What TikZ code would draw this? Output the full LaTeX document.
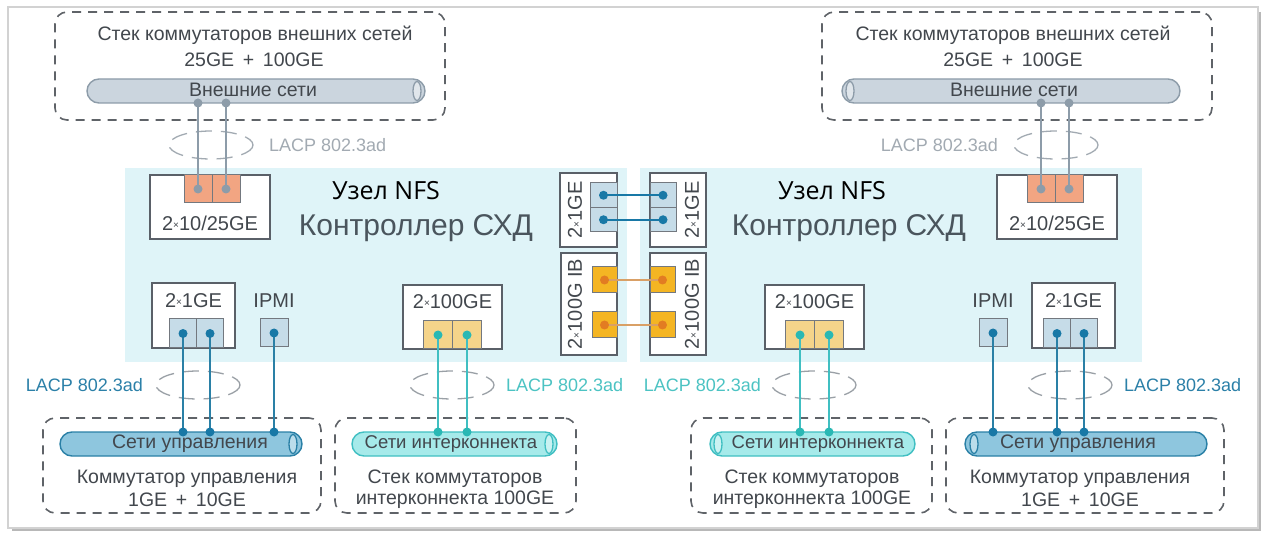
\documentclass[tikz,border=0pt]{standalone}
\usepackage{fontspec}
\setmainfont{Liberation Sans}
\newfontfamily\nfsfont{Open Sans}
\usetikzlibrary{calc}
\definecolor{cyanbg}{HTML}{DFF4F8}
\definecolor{boxline}{HTML}{5A6068}
\definecolor{dashgray}{HTML}{5F6368}
\definecolor{txtgray}{HTML}{42474D}
\definecolor{ctrlgray}{HTML}{4A555D}
\definecolor{extfill}{HTML}{CBD5DE}
\definecolor{extline}{HTML}{8D9CA9}
\definecolor{mgmtfill}{HTML}{8EC6DE}
\definecolor{mgmtline}{HTML}{2A80A6}
\definecolor{icfill}{HTML}{A6EAEA}
\definecolor{icline}{HTML}{40BFC2}
\definecolor{salmon}{HTML}{F2A582}
\definecolor{oneGfill}{HTML}{C6DCE8}
\definecolor{oneGdot}{HTML}{1878A6}
\definecolor{hundfill}{HTML}{F5D48A}
\definecolor{hunddot}{HTML}{2AB8B4}
\definecolor{ibfill}{HTML}{F4B523}
\definecolor{ibdot}{HTML}{E27C22}
\definecolor{iblink}{HTML}{D9A066}
\definecolor{lacpgray}{HTML}{A2AAB2}
\definecolor{lacpblue}{HTML}{2B80A8}
\definecolor{lacpteal}{HTML}{4CC3C3}
\definecolor{ringgray}{HTML}{9AA0A6}
\definecolor{framegray}{HTML}{D2D2D2}
\definecolor{shadowgray}{HTML}{B8B8B8}
\newcommand\tms{\raisebox{0.1em}{\fontsize{10}{10}\selectfont ×}}
\tikzset{
  every node/.style={inner sep=0pt, outer sep=0pt},
  hwbox/.style={draw=boxline, line width=1.3pt, fill=white},
  portbox/.style={draw=boxline!85, line width=1pt},
  dashbox/.style={draw=dashgray, line width=1.6pt, dash pattern=on 9pt off 7pt, rounded corners=12pt},
  pipebody/.style={line width=1.4pt, rounded corners=12pt, minimum height=24pt},
  ring/.style={draw=ringgray, line width=1.3pt, dash pattern=on 16pt off 9pt},
  txt/.style={text=txtgray, font=\fontsize{19.5}{22}\selectfont},
  ictxt/.style={text=txtgray, font=\fontsize{18.5}{22}\selectfont},
  lbl/.style={text=txtgray, font=\fontsize{20}{22}\selectfont},
  lacp/.style={font=\fontsize{18}{20}\selectfont},
  ctrl/.style={text=ctrlgray, font=\fontsize{30}{32}\selectfont},
  nfs/.style={text=black, font=\nfsfont\fontsize{25}{28}\selectfont},
  extwire/.style={draw=extline, line width=2pt},
  mgmtwire/.style={draw=mgmtline, line width=2pt},
  icwire/.style={draw=icline, line width=2pt},
  oneGwire/.style={draw=oneGdot, line width=1.6pt},
  ibwire/.style={draw=iblink, line width=1.2pt},
}
\begin{document}
\begin{tikzpicture}[x=1pt,y=-1pt]
\useasboundingbox (0,0) rectangle (1267,537);
% frame
\draw[shadowgray, line width=2.5pt] (1260,12) -- (1260,530) -- (12,530);
\draw[framegray, line width=1.5pt, fill=white] (8,7) rectangle (1258,528);
% cyan backgrounds
\node[fill=cyanbg, minimum width=502, minimum height=194] (bgL) at (376,265) {};
\node[fill=cyanbg, minimum width=502, minimum height=194] (bgR) at (891,265) {};

% ---------- dashed switch boxes ----------
\node[dashbox, minimum width=390, minimum height=108] (tlbox) at (250,66) {};
\node[dashbox, minimum width=390, minimum height=108] (trbox) at (1017,66) {};
\node[dashbox, minimum width=278, minimum height=95] (bl1box) at (182,465.5) {};
\node[dashbox, minimum width=241, minimum height=95] (bl2box) at (455.5,465.5) {};
\node[dashbox, minimum width=241, minimum height=95] (br1box) at (811.5,465.5) {};
\node[dashbox, minimum width=278, minimum height=95] (br2box) at (1085,465.5) {};

% texts in dashed boxes
\node[txt] (tlt1) at (255,35) {Стек коммутаторов внешних сетей};
\node[txt] (tlt2) at (254,60) {25GE \,+\, 100GE};
\node[txt] (trt1) at (1013,35) {Стек коммутаторов внешних сетей};
\node[txt] (trt2) at (1013,60) {25GE \,+\, 100GE};
\node[txt] (bl1t1) at (187,479) {Коммутатор управления};
\node[txt] (bl1t2) at (187,500) {1GE \,+\, 10GE};
\node[txt] (bl2t1) at (455,479) {Стек коммутаторов};
\node[txt] (bl2t2) at (455,500) {интерконнекта 100GE};
\node[txt] (br1t1) at (812,479) {Стек коммутаторов};
\node[txt] (br1t2) at (812,500) {интерконнекта 100GE};
\node[txt] (br2t1) at (1080,479) {Коммутатор управления};
\node[txt] (br2t2) at (1080,500) {1GE \,+\, 10GE};

% ---------- pipes ----------
\node[pipebody, draw=extline, fill=extfill, minimum width=338] (tlpipe) at (256,91) {};
\draw[extline, line width=1.3pt, fill=extfill!60] (417,91) ellipse [x radius=4, y radius=9.5];
\node[txt] (tlpt) at (253,90) {Внешние сети};
\node[pipebody, draw=extline, fill=extfill, minimum width=338] (trpipe) at (1011,91) {};
\draw[extline, line width=1.3pt, fill=extfill!60] (850,91) ellipse [x radius=4, y radius=9.5];
\node[txt] (trpt) at (1014,90) {Внешние сети};

\node[pipebody, draw=mgmtline, fill=mgmtfill, minimum width=242] (bl1pipe) at (181,444) {};
\draw[mgmtline, line width=1.3pt, fill=mgmtfill!60] (293,444) ellipse [x radius=4, y radius=9.5];
\node[txt] (bl1pt) at (190,444) {Сети управления};
\node[pipebody, draw=icline, fill=icfill, minimum width=205] (bl2pipe) at (454.5,444) {};
\draw[icline, line width=1.3pt, fill=icfill!60] (549,444) ellipse [x radius=4, y radius=9.5];
\node[ictxt] (bl2pt) at (451,444) {Сети интерконнекта};
\node[pipebody, draw=icline, fill=icfill, minimum width=205] (br1pipe) at (812.5,444) {};
\draw[icline, line width=1.3pt, fill=icfill!60] (718,444) ellipse [x radius=4, y radius=9.5];
\node[ictxt] (br1pt) at (818,444) {Сети интерконнекта};
\node[pipebody, draw=mgmtline, fill=mgmtfill, minimum width=242] (br2pipe) at (1086,444) {};
\draw[mgmtline, line width=1.3pt, fill=mgmtfill!60] (974,444) ellipse [x radius=4, y radius=9.5];
\node[txt] (br2pt) at (1078,444) {Сети управления};

% pipe attach points
\coordinate (tlp1) at (198,103); \coordinate (tlp2) at (226,103);
\coordinate (trp1) at (1041,103); \coordinate (trp2) at (1069,103);
\coordinate (bl1p1) at (183,432); \coordinate (bl1p2) at (210,432); \coordinate (bl1p3) at (274,432);
\coordinate (bl2p1) at (438,432); \coordinate (bl2p2) at (467,432);
\coordinate (br1p1) at (800,432); \coordinate (br1p2) at (829,432);
\coordinate (br2p1) at (993,432); \coordinate (br2p2) at (1057,432); \coordinate (br2p3) at (1084,432);

% ---------- controller titles ----------
\node[nfs] (nfsL) at (386,191) {Узел NFS};
\node[ctrl] (ctrlL) at (416,228) {Контроллер СХД};
\node[nfs] (nfsR) at (832,191) {Узел NFS};
\node[ctrl] (ctrlR) at (849,228) {Контроллер СХД};

% ---------- left node hardware ----------
\node[hwbox, minimum width=120, minimum height=64] (l25box) at (210,207) {};
\node[portbox, fill=salmon, minimum width=28, minimum height=28] (l25a) at (198,189) {};
\node[portbox, fill=salmon, minimum width=28, minimum height=28] (l25b) at (226,189) {};
\node[lbl] (l25t) at (210,223) {2\tms10/25GE};

\node[hwbox, minimum width=83, minimum height=65] (l1box) at (193.5,315.5) {};
\node[portbox, fill=oneGfill, minimum width=27, minimum height=29] (l1a) at (183,333.5) {};
\node[portbox, fill=oneGfill, minimum width=27, minimum height=29] (l1b) at (210,333.5) {};
\node[lbl] (l1t) at (193.5,301) {2\tms1GE};

\node[portbox, fill=oneGfill, minimum width=28, minimum height=28] (lipmi) at (274,333) {};
\node[lbl] (lipmit) at (274,301) {IPMI};

\node[hwbox, minimum width=99, minimum height=64] (l100box) at (452.5,317) {};
\node[portbox, fill=hundfill, minimum width=29, minimum height=28] (l100a) at (438,335) {};
\node[portbox, fill=hundfill, minimum width=29, minimum height=28] (l100b) at (467,335) {};
\node[lbl] (l100t) at (452.5,302) {2\tms100GE};

% ---------- middle interconnect ----------
\node[hwbox, minimum width=57, minimum height=74] (m1Lbox) at (588.5,210) {};
\node[portbox, fill=oneGfill, minimum width=27, minimum height=24.5] (m1La) at (603.5,195.25) {};
\node[portbox, fill=oneGfill, minimum width=27, minimum height=24.5] (m1Lb) at (603.5,219.75) {};
\node[lbl, rotate=90] (m1Lt) at (575,210) {2\tms1GE};

\node[hwbox, minimum width=56, minimum height=102] (ibLbox) at (589,304) {};
\node[portbox, fill=ibfill, minimum width=25, minimum height=26] (ibLa) at (604.5,280) {};
\node[portbox, fill=ibfill, minimum width=25, minimum height=26] (ibLb) at (604.5,325) {};
\node[lbl, rotate=90] (ibLt) at (575,304) {2\tms100G IB};

\node[hwbox, minimum width=56, minimum height=74] (m1Rbox) at (678,210) {};
\node[portbox, fill=oneGfill, minimum width=26, minimum height=24.5] (m1Ra) at (663,195.25) {};
\node[portbox, fill=oneGfill, minimum width=26, minimum height=24.5] (m1Rb) at (663,219.75) {};
\node[lbl, rotate=90] (m1Rt) at (692,210) {2\tms1GE};

\node[hwbox, minimum width=56, minimum height=102] (ibRbox) at (678,304) {};
\node[portbox, fill=ibfill, minimum width=25, minimum height=26] (ibRa) at (662.5,280) {};
\node[portbox, fill=ibfill, minimum width=25, minimum height=26] (ibRb) at (662.5,325) {};
\node[lbl, rotate=90] (ibRt) at (692,304) {2\tms100G IB};

% ---------- right node hardware ----------
\node[hwbox, minimum width=120, minimum height=64] (r25box) at (1057,207) {};
\node[portbox, fill=salmon, minimum width=28, minimum height=28] (r25a) at (1041,189) {};
\node[portbox, fill=salmon, minimum width=28, minimum height=28] (r25b) at (1069,189) {};
\node[lbl] (r25t) at (1057,223) {2\tms10/25GE};

\node[hwbox, minimum width=83, minimum height=65] (r1box) at (1073.5,315.5) {};
\node[portbox, fill=oneGfill, minimum width=27, minimum height=29] (r1a) at (1057,333.5) {};
\node[portbox, fill=oneGfill, minimum width=27, minimum height=29] (r1b) at (1084,333.5) {};
\node[lbl] (r1t) at (1073.5,301) {2\tms1GE};

\node[portbox, fill=oneGfill, minimum width=28, minimum height=28] (ripmi) at (993,333) {};
\node[lbl] (ripmit) at (993,301) {IPMI};

\node[hwbox, minimum width=99, minimum height=64] (r100box) at (814.5,317) {};
\node[portbox, fill=hundfill, minimum width=29, minimum height=28] (r100a) at (800,335) {};
\node[portbox, fill=hundfill, minimum width=29, minimum height=28] (r100b) at (829,335) {};
\node[lbl] (r100t) at (814.5,302) {2\tms100GE};

% ---------- LACP rings ----------
\draw[ring, draw=lacpgray] (211,145) ellipse [x radius=42, y radius=14];
\node[lacp, text=lacpgray, anchor=west] (lacpTL) at (269,145) {LACP 802.3ad};
\draw[ring, draw=lacpgray] (1056,145) ellipse [x radius=42, y radius=14];
\node[lacp, text=lacpgray, anchor=east] (lacpTR) at (998,145) {LACP 802.3ad};
\draw[ring] (198,385) ellipse [x radius=42, y radius=14];
\node[lacp, text=lacpblue, anchor=east] (lacpBL1) at (143,385) {LACP 802.3ad};
\draw[ring] (452,385) ellipse [x radius=42, y radius=14];
\node[lacp, text=lacpteal, anchor=west] (lacpBL2) at (506,385) {LACP 802.3ad};
\draw[ring] (814,385) ellipse [x radius=42, y radius=14];
\node[lacp, text=lacpteal, anchor=east] (lacpBR1) at (761,385) {LACP 802.3ad};
\draw[ring] (1070,385) ellipse [x radius=42, y radius=14];
\node[lacp, text=lacpblue, anchor=west] (lacpBR2) at (1124,385) {LACP 802.3ad};

% ---------- connectors ----------
\draw[extwire] (tlp1) -- (l25a.center);
\draw[extwire] (tlp2) -- (l25b.center);
\draw[extwire] (trp1) -- (r25a.center);
\draw[extwire] (trp2) -- (r25b.center);
\draw[mgmtwire] (bl1p1) -- (l1a.center);
\draw[mgmtwire] (bl1p2) -- (l1b.center);
\draw[mgmtwire] (bl1p3) -- (lipmi.center);
\draw[icwire] (bl2p1) -- (l100a.center);
\draw[icwire] (bl2p2) -- (l100b.center);
\draw[icwire] (br1p1) -- (r100a.center);
\draw[icwire] (br1p2) -- (r100b.center);
\draw[mgmtwire] (br2p1) -- (ripmi.center);
\draw[mgmtwire] (br2p2) -- (r1a.center);
\draw[mgmtwire] (br2p3) -- (r1b.center);
\draw[oneGwire] (m1La.center) -- (m1Ra.center);
\draw[oneGwire] (m1Lb.center) -- (m1Rb.center);
\draw[ibwire] (ibLa.center) -- (ibRa.center);
\draw[ibwire] (ibLb.center) -- (ibRb.center);

% ---------- dots ----------
\foreach \p in {tlp1,tlp2,trp1,trp2,l25a,l25b,r25a,r25b} \fill[extline] (\p) circle [radius=4.5];
\foreach \p in {bl1p1,bl1p2,bl1p3,br2p1,br2p2,br2p3,l1a,l1b,lipmi,r1a,r1b,ripmi} \fill[oneGdot] (\p) circle [radius=4.5];
\foreach \p in {bl2p1,bl2p2,br1p1,br1p2,l100a,l100b,r100a,r100b} \fill[hunddot] (\p) circle [radius=4.5];
\foreach \p in {m1La,m1Lb,m1Ra,m1Rb} \fill[oneGdot] (\p) circle [radius=4.5];
\foreach \p in {ibLa,ibLb,ibRa,ibRb} \fill[ibdot] (\p) circle [radius=4.5];
\end{tikzpicture}
\end{document}
